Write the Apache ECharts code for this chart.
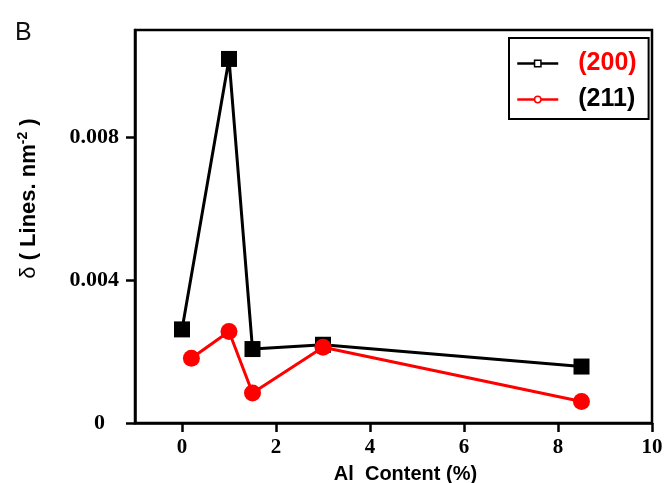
<!DOCTYPE html>
<html>
<head>
<meta charset="utf-8">
<script src="https://cdn.jsdelivr.net/npm/echarts@6/dist/echarts.min.js"></script>
<style>html,body{margin:0;padding:0;background:#fff}#c{width:665px;height:483px}</style>
</head>
<body>
<div id="c"></div>
<script>
// Data
var seriesNames = ['(200)', '(211)'];
var x200 = [0, 1, 1.5, 3, 8.5];
var y200 = [0.00262, 0.01019, 0.00207, 0.00219, 0.00158];
var x211 = [0.2, 1, 1.5, 3, 8.5];
var y211 = [0.00181, 0.00256, 0.00084, 0.00212, 0.00060];
var xTicks = [0, 2, 4, 6, 8, 10];
var yTicks = [0, 0.004, 0.008];

function pairs(xs, ys) { return xs.map(function (x, i) { return [x, ys[i]]; }); }

var chart = echarts.init(document.getElementById('c'), null, {renderer: 'canvas'});
chart.setOption({
  backgroundColor: '#fff',
  animation: false,
  title: {
    text: 'B', left: 10, top: 16,
    textStyle: {fontFamily: 'Liberation Sans, Arial, sans-serif', fontSize: 25, fontWeight: 'normal', color: '#111'}
  },
  grid: {left: 135, right: 13, top: 30, bottom: 60, show: true, borderColor: '#000', borderWidth: 2.5, containLabel: false, outerBoundsMode: 'none'},
  legend: {
    orient: 'vertical', left: 509, top: 38,
    padding: [13, 12, 7, 7], itemGap: 11,
    itemWidth: 41, itemHeight: 8,
    backgroundColor: '#fff', borderColor: '#000', borderWidth: 2,
    lineStyle: {width: 2.5},
    textStyle: {fontFamily: 'Liberation Sans, Arial, sans-serif', fontSize: 25, fontWeight: 'bold', padding: [0, 0, 0, 15]},
    data: [
      {name: seriesNames[0], textStyle: {color: '#ff0000'}, itemStyle: {color: '#fff', borderColor: '#000', borderWidth: 1.5}},
      {name: seriesNames[1], textStyle: {color: '#000'}, itemStyle: {color: '#fff', borderColor: '#ff0000', borderWidth: 1.5}}
    ]
  },
  xAxis: {
    type: 'value', min: -1, max: 10,
    name: 'Al  Content (%)', nameLocation: 'middle', nameGap: 41,
    nameTextStyle: {fontFamily: 'Liberation Sans, Arial, sans-serif', fontSize: 20, fontWeight: 'bold', color: '#000', padding: [0, 0, 0, 24]},
    axisLine: {show: true, onZero: false, lineStyle: {color: '#000', width: 2.5}},
    axisTick: {show: true, length: 9, customValues: xTicks, lineStyle: {color: '#000', width: 2.5}},
    axisLabel: {customValues: xTicks, margin: 14, fontFamily: 'Liberation Serif, Times New Roman, serif', fontSize: 21, fontWeight: 'bold', color: '#000'},
    splitLine: {show: false}
  },
  yAxis: {
    type: 'value', min: 0, max: 0.011,
    name: '{d|δ} ( Lines. nm{s|-2} )', nameLocation: 'middle', nameGap: 94, nameRotate: 90,
    nameTextStyle: {
      fontFamily: 'Liberation Sans, Arial, sans-serif', fontSize: 22, fontWeight: 'bold', color: '#000', padding: [0, 0, 0, 56],
      rich: {
        d: {fontFamily: 'Liberation Sans, Arial, sans-serif', fontSize: 22, fontWeight: 'normal', color: '#000'},
        s: {fontFamily: 'Liberation Sans, Arial, sans-serif', fontSize: 14, fontWeight: 'bold', color: '#000', padding: [0, 0, 11, 0]}
      }
    },
    axisLine: {show: true, onZero: false, lineStyle: {color: '#000', width: 2.5}},
    axisTick: {show: true, length: 9, customValues: yTicks, lineStyle: {color: '#000', width: 2.5}},
    axisLabel: {
      customValues: yTicks, margin: 16,
      fontFamily: 'Liberation Serif, Times New Roman, serif', fontSize: 22, fontWeight: 'bold', color: '#000',
      formatter: function (v) { return v === 0 ? '{z|0}' : v.toFixed(3); },
      rich: {z: {fontFamily: 'Liberation Serif, Times New Roman, serif', fontSize: 22, fontWeight: 'bold', color: '#000', padding: [0, 14, 0, 0]}}
    },
    splitLine: {show: false}
  },
  series: [
    {
      name: seriesNames[0], type: 'line', data: pairs(x200, y200),
      symbol: 'rect', symbolSize: 16, color: '#000',
      lineStyle: {color: '#000', width: 3}, itemStyle: {color: '#000'}, z: 2
    },
    {
      name: seriesNames[1], type: 'line', data: pairs(x211, y211),
      symbol: 'circle', symbolSize: 17, color: '#ff0000',
      lineStyle: {color: '#ff0000', width: 3}, itemStyle: {color: '#ff0000'}, z: 3
    }
  ]
});
</script>
</body>
</html>
